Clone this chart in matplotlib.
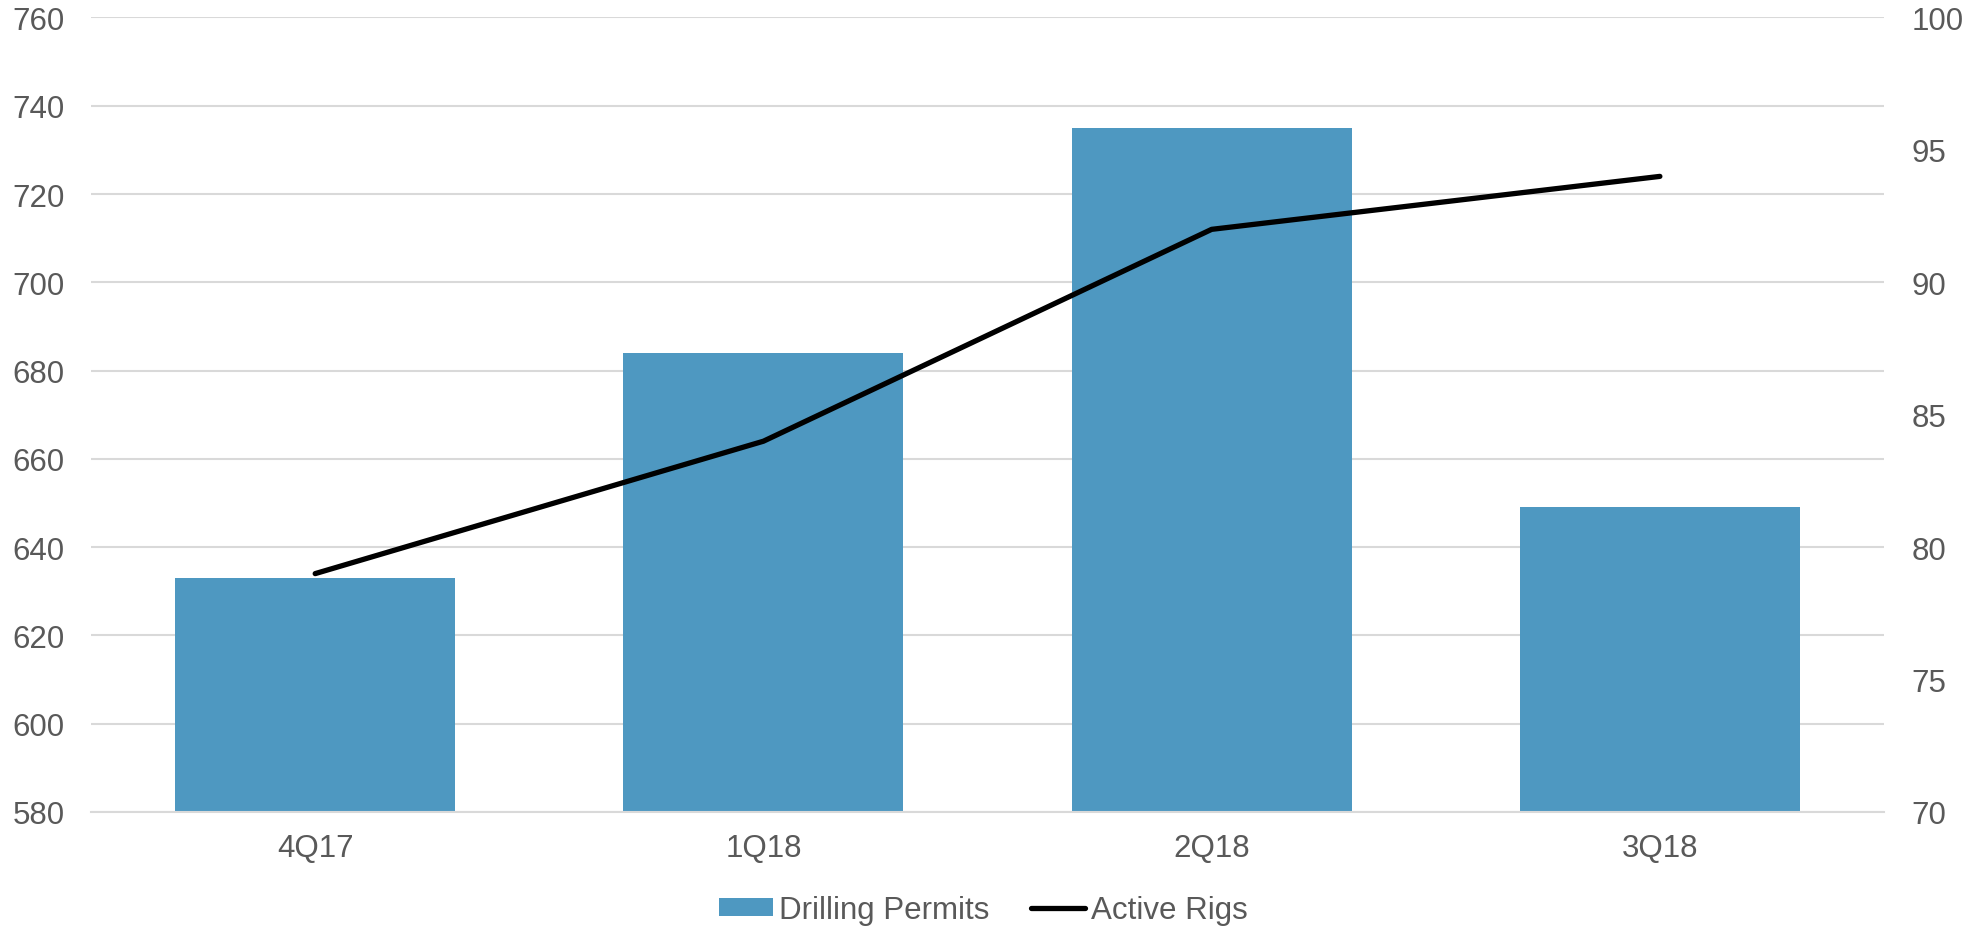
"""Drilling permits (bars) vs active rigs (line) by quarter."""
import matplotlib

matplotlib.use("Agg")
import matplotlib.pyplot as plt

plt.rcParams["font.family"] = ["Liberation Sans", "DejaVu Sans"]

# Data
quarters = ["4Q17", "1Q18", "2Q18", "3Q18"]
drilling_permits = [633, 684, 735, 649]
active_rigs = [79, 84, 92, 94]

BAR_COLOR = "#4E98C1"
GRID_COLOR = "#D9D9D9"
TEXT_COLOR = "#595959"
FS = 22.5

fig = plt.figure(figsize=(19.67, 9.29), dpi=100)
ax = fig.add_axes([0.0463, 0.1249, 0.9115, 0.8552])
ax2 = ax.twinx()

x = range(len(quarters))
bars = ax.bar(x, drilling_permits, width=0.625, color=BAR_COLOR, zorder=2,
              label="Drilling Permits")
line, = ax2.plot(x, active_rigs, color="black", lw=3.8, solid_capstyle="round",
                 zorder=3, label="Active Rigs")

ax.set_xlim(-0.5, len(quarters) - 0.5)
ax.set_ylim(580, 760)
ax.set_yticks(range(580, 761, 20))
ax2.set_ylim(70, 100)
ax2.set_yticks(range(70, 101, 5))

ax.set_xticks(list(x))
ax.set_xticklabels(quarters)
ax.grid(axis="y", color=GRID_COLOR, lw=1.5, zorder=0)
ax.set_axisbelow(True)

for a in (ax, ax2):
    for s in a.spines.values():
        s.set_visible(False)
    a.tick_params(length=0, labelsize=FS, labelcolor=TEXT_COLOR)
ax.tick_params(axis="y", pad=19)
ax.tick_params(axis="x", pad=15)
ax2.tick_params(axis="y", pad=20)

ax.spines["bottom"].set_visible(True)
ax.spines["bottom"].set_color(GRID_COLOR)
ax.spines["bottom"].set_linewidth(1.5)

leg = fig.legend([bars, line], ["Drilling Permits", "Active Rigs"],
                 loc="center", bbox_to_anchor=(0.5, 0.019), ncol=2, frameon=False,
                 fontsize=FS, handlelength=1.7, handletextpad=0.2,
                 columnspacing=1.35, handleheight=0.5)
for t in leg.get_texts():
    t.set_color(TEXT_COLOR)

fig.savefig("out.png", dpi=100)
